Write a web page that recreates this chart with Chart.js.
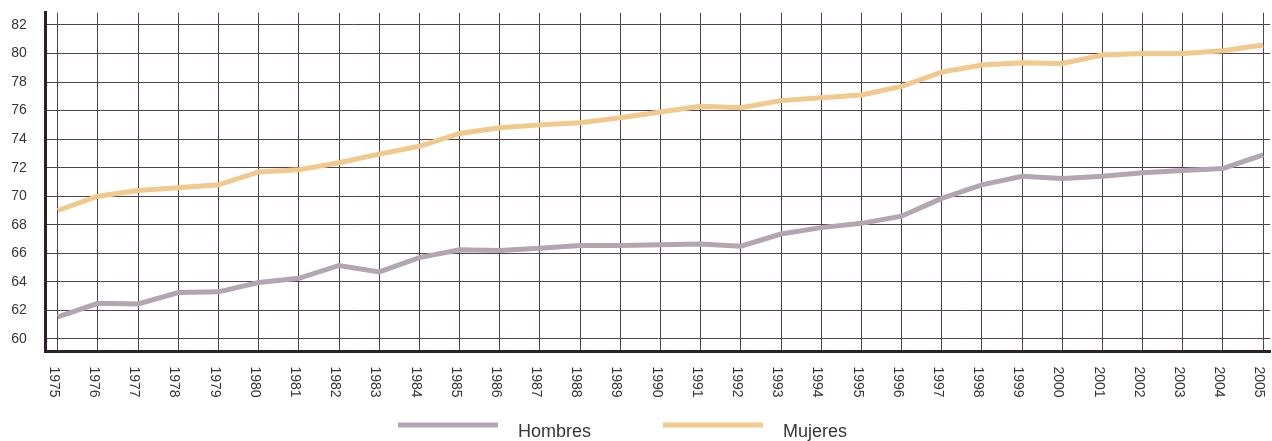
<!DOCTYPE html>
<html>
<head>
<meta charset="utf-8">
<title>Esperanza de vida</title>
<script src="https://cdn.jsdelivr.net/npm/chart.js@4/dist/chart.umd.min.js"></script>
<style>
    html, body { margin: 0; padding: 0; background: #ffffff; }
    #wrap { width: 1272px; height: 441px; position: relative; }
</style>
</head>
<body>
<div id="wrap"><canvas id="chart"></canvas></div>
<script>
const years = [1975, 1976, 1977, 1978, 1979, 1980, 1981, 1982, 1983, 1984,
    1985, 1986, 1987, 1988, 1989, 1990, 1991, 1992, 1993, 1994,
    1995, 1996, 1997, 1998, 1999, 2000, 2001, 2002, 2003, 2004, 2005];
const yTicks = [60, 62, 64, 66, 68, 70, 72, 74, 76, 78, 80, 82];

const hombres = [61.55, 62.5, 62.45, 63.25, 63.3, 63.95, 64.25, 65.15, 64.7, 65.7,
    66.25, 66.2, 66.35, 66.55, 66.55, 66.6, 66.65, 66.5, 67.35, 67.8,
    68.1, 68.6, 69.85, 70.8, 71.4, 71.25, 71.4, 71.65, 71.8, 71.95, 72.9];
const mujeres = [69.0, 70.0, 70.4, 70.6, 70.8, 71.7, 71.85, 72.35, 72.95, 73.5,
    74.4, 74.8, 75.0, 75.15, 75.5, 75.9, 76.3, 76.2, 76.7, 76.9,
    77.1, 77.7, 78.7, 79.2, 79.35, 79.3, 79.9, 80.0, 80.0, 80.2, 80.6];

const seriesLabels = ['Hombres', 'Mujeres'];
const seriesColors = ['#b3a6b0', '#f1c98c'];

const GRID = '#524250';
const AXIS = '#2b1f2b';
const TEXT = '#3a3238';
const FONT = '"Liberation Sans", Arial, sans-serif';

const toPoints = (values) => values.map((v, i) => ({ x: years[i], y: v }));

// year labels (rotated, reading downward) and the legend under the chart
const bottomDecor = {
    id: 'bottomDecor',
    afterDraw(chart) {
        const ctx = chart.ctx;
        const xScale = chart.scales.x;
        const area = chart.chartArea;

        ctx.save();
        ctx.font = '14px ' + FONT;
        ctx.fillStyle = TEXT;
        ctx.textAlign = 'left';
        ctx.textBaseline = 'middle';
        years.forEach(year => {
            const px = xScale.getPixelForValue(year) - 4;
            ctx.save();
            ctx.translate(px, area.bottom + 15);
            ctx.rotate(Math.PI / 2);
            ctx.fillText(String(year), 0, 0);
            ctx.restore();
        });

        let x = 398;
        const lineY = 425;
        ctx.font = '18px ' + FONT;
        chart.data.datasets.forEach(ds => {
            ctx.fillStyle = ds.borderColor;
            ctx.fillRect(x, lineY - 2.5, 100, 5);
            ctx.fillStyle = TEXT;
            ctx.fillText(ds.label, x + 120, lineY + 7.5);
            x += 120 + ctx.measureText(ds.label).width + 72;
        });
        ctx.restore();
    }
};

new Chart(document.getElementById('chart'), {
    type: 'line',
    data: {
        datasets: [
            {
                label: seriesLabels[0],
                data: toPoints(hombres),
                borderColor: seriesColors[0],
                backgroundColor: seriesColors[0],
                borderWidth: 5,
                pointRadius: 0,
                tension: 0
            },
            {
                label: seriesLabels[1],
                data: toPoints(mujeres),
                borderColor: seriesColors[1],
                backgroundColor: seriesColors[1],
                borderWidth: 5,
                pointRadius: 0,
                tension: 0
            }
        ]
    },
    options: {
        responsive: true,
        maintainAspectRatio: false,
        animation: false,
        layout: { padding: { top: 12.7, right: 2, left: 0, bottom: 0 } },
        plugins: {
            legend: { display: false },
            tooltip: { enabled: false }
        },
        scales: {
            x: {
                type: 'linear',
                min: 1974.7,
                max: 2005.17,
                afterBuildTicks: (scale) => { scale.ticks = years.map(v => ({ value: v })); },
                afterFit: (scale) => { scale.height = 89.5; },
                ticks: { display: false },
                grid: { color: GRID, lineWidth: 1, drawTicks: false },
                border: { display: true, color: AXIS, width: 3 }
            },
            y: {
                min: 59.12,
                max: 82.86,
                afterBuildTicks: (scale) => { scale.ticks = yTicks.map(v => ({ value: v })); },
                afterFit: (scale) => {
                    scale.width = 45.7;
                    // tick padding would otherwise push the plot top down
                    scale.paddingTop = 0;
                    scale.paddingBottom = 0;
                },
                ticks: {
                    padding: 19,
                    color: TEXT,
                    font: { family: FONT, size: 14 }
                },
                grid: { color: GRID, lineWidth: 1, drawTicks: false },
                border: { display: true, color: AXIS, width: 3 }
            }
        }
    },
    plugins: [bottomDecor]
});
</script>
</body>
</html>
